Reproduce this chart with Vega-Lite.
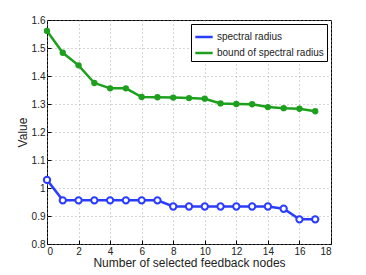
{
  "$schema": "https://vega.github.io/schema/vega-lite/v6.json",
  "width": 284,
  "height": 224,
  "autosize": {"type": "none"},
  "padding": {"left": 47, "top": 20, "right": 35, "bottom": 31},
  "background": "white",
  "config": {
    "font": "Liberation Sans",
    "view": {"stroke": "black", "strokeWidth": 1},
    "axis": {
      "labelFont": "Liberation Sans",
      "titleFont": "Liberation Sans",
      "labelFontSize": 10,
      "titleFontSize": 12,
      "titleFontWeight": "normal",
      "labelColor": "#222",
      "titleColor": "#222",
      "domain": false,
      "tickColor": "black",
      "tickSize": -4,
      "gridColor": "#999999",
      "gridDash": [1, 3],
      "gridWidth": 0.8
    }
  },
  "datasets": {
    "series": [
      {"n": 0, "value": 1.029, "series": "spectral radius"},
      {"n": 1, "value": 0.956, "series": "spectral radius"},
      {"n": 2, "value": 0.956, "series": "spectral radius"},
      {"n": 3, "value": 0.956, "series": "spectral radius"},
      {"n": 4, "value": 0.956, "series": "spectral radius"},
      {"n": 5, "value": 0.956, "series": "spectral radius"},
      {"n": 6, "value": 0.956, "series": "spectral radius"},
      {"n": 7, "value": 0.956, "series": "spectral radius"},
      {"n": 8, "value": 0.934, "series": "spectral radius"},
      {"n": 9, "value": 0.934, "series": "spectral radius"},
      {"n": 10, "value": 0.934, "series": "spectral radius"},
      {"n": 11, "value": 0.934, "series": "spectral radius"},
      {"n": 12, "value": 0.934, "series": "spectral radius"},
      {"n": 13, "value": 0.934, "series": "spectral radius"},
      {"n": 14, "value": 0.934, "series": "spectral radius"},
      {"n": 15, "value": 0.926, "series": "spectral radius"},
      {"n": 16, "value": 0.888, "series": "spectral radius"},
      {"n": 17, "value": 0.888, "series": "spectral radius"},
      {"n": 0, "value": 1.561, "series": "bound of spectral radius"},
      {"n": 1, "value": 1.483, "series": "bound of spectral radius"},
      {"n": 2, "value": 1.438, "series": "bound of spectral radius"},
      {"n": 3, "value": 1.375, "series": "bound of spectral radius"},
      {"n": 4, "value": 1.356, "series": "bound of spectral radius"},
      {"n": 5, "value": 1.356, "series": "bound of spectral radius"},
      {"n": 6, "value": 1.325, "series": "bound of spectral radius"},
      {"n": 7, "value": 1.324, "series": "bound of spectral radius"},
      {"n": 8, "value": 1.323, "series": "bound of spectral radius"},
      {"n": 9, "value": 1.321, "series": "bound of spectral radius"},
      {"n": 10, "value": 1.319, "series": "bound of spectral radius"},
      {"n": 11, "value": 1.302, "series": "bound of spectral radius"},
      {"n": 12, "value": 1.300, "series": "bound of spectral radius"},
      {"n": 13, "value": 1.299, "series": "bound of spectral radius"},
      {"n": 14, "value": 1.289, "series": "bound of spectral radius"},
      {"n": 15, "value": 1.285, "series": "bound of spectral radius"},
      {"n": 16, "value": 1.283, "series": "bound of spectral radius"},
      {"n": 17, "value": 1.274, "series": "bound of spectral radius"}
    ]
  },
  "data": {"name": "series"},
  "encoding": {
    "x": {
      "field": "n",
      "type": "quantitative",
      "scale": {"domain": [0, 18], "nice": false},
      "axis": {"values": [0, 2, 4, 6, 8, 10, 12, 14, 16, 18], "title": "Number of selected feedback nodes", "labelPadding": 6, "titlePadding": 1}
    },
    "y": {
      "field": "value",
      "type": "quantitative",
      "scale": {"domain": [0.8, 1.6], "nice": false, "zero": false},
      "axis": {"values": [0.8, 0.9, 1.0, 1.1, 1.2, 1.3, 1.4, 1.5, 1.6], "title": "Value", "labelPadding": 6, "titlePadding": 2,
        "labelExpr": "datum.value == 1 ? '1' : format(datum.value, '.1f')"}
    },
    "color": {
      "field": "series",
      "type": "nominal",
      "scale": {"domain": ["spectral radius", "bound of spectral radius"], "range": ["#2a3cff", "#1ea01e"]},
      "legend": {
        "title": null,
        "orient": "top-right",
        "offset": 4,
        "fillColor": "white",
        "strokeColor": "black",
        "padding": 3,
        "symbolType": "stroke",
        "symbolStrokeWidth": 2.5,
        "symbolSize": 300,
        "labelFontSize": 10,
        "labelFont": "Liberation Sans",
        "labelColor": "#222",
        "rowPadding": 1,
        "labelOffset": 3
      }
    }
  },
  "layer": [
    {
      "transform": [{"filter": "datum.series == 'spectral radius'"}],
      "mark": {"type": "line", "strokeWidth": 2.5, "point": {"filled": false, "fill": "white", "size": 40, "strokeWidth": 2}}
    },
    {
      "transform": [{"filter": "datum.series == 'bound of spectral radius'"}],
      "mark": {"type": "line", "strokeWidth": 2.5, "point": {"filled": true, "size": 40}}
    }
  ]
}
